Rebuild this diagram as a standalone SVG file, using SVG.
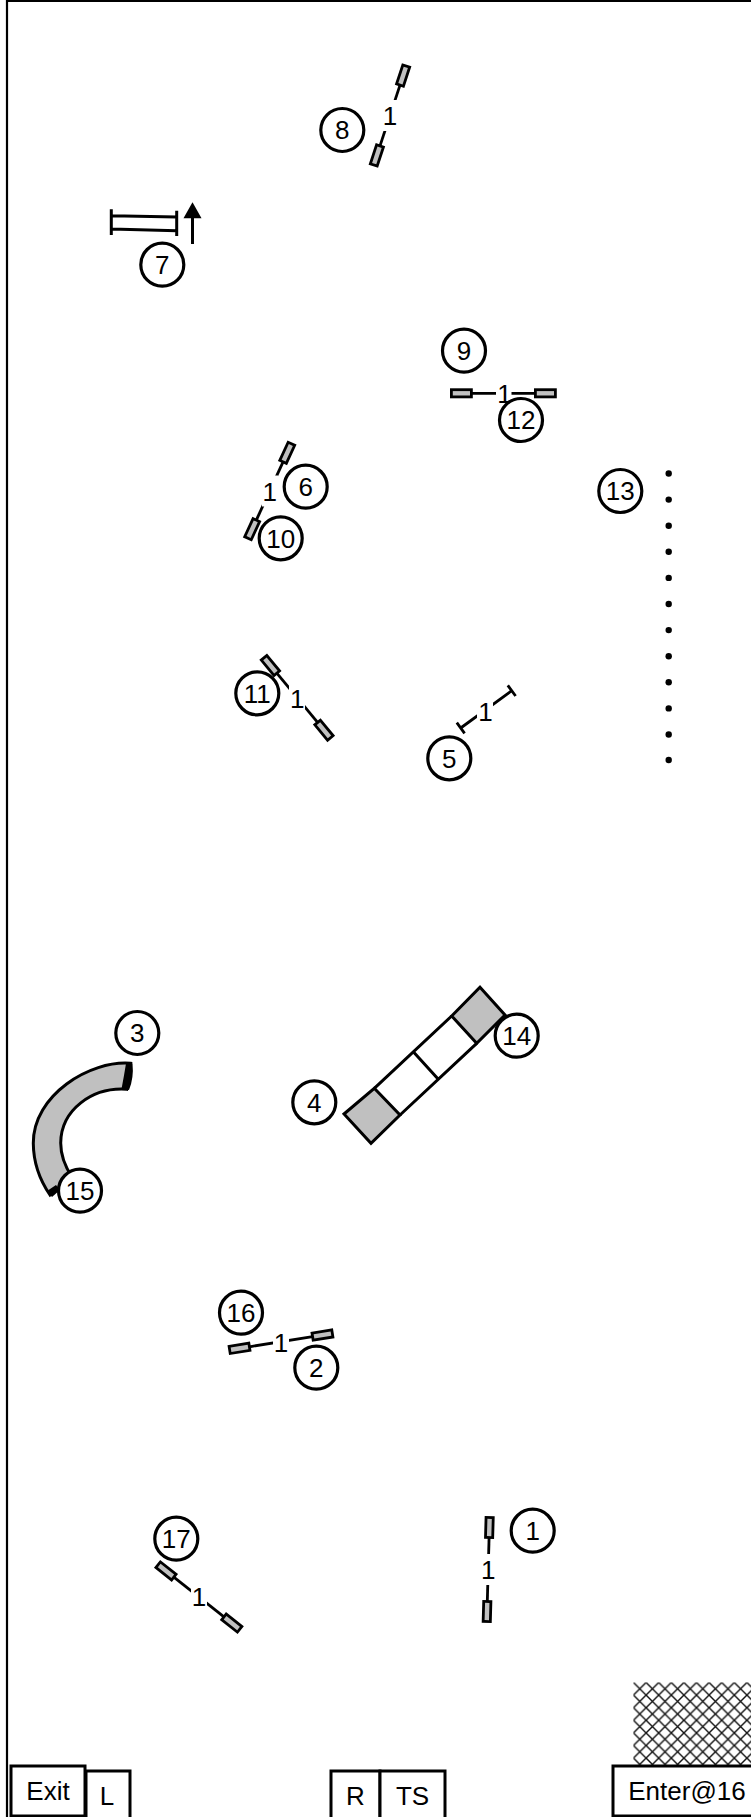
<svg xmlns="http://www.w3.org/2000/svg" width="751" height="1817" viewBox="0 0 751 1817">
<style>
text{font-family:"Liberation Sans",Arial,sans-serif;font-size:26px;fill:#000;text-anchor:middle}
.n circle{fill:#fff;stroke:#000;stroke-width:3.2}
.k{fill:none;stroke:#000;stroke-width:3}
.w{fill:#c0c0c0;stroke:#000;stroke-width:2.8}
.g{fill:#c0c0c0;stroke:#000;stroke-width:3}
.b{fill:#fff;stroke:#000;stroke-width:3}
.d{fill:#000}
</style>
<defs>
<g id="wings">
<line x1="-32" y1="0" x2="32" y2="0" class="k" style="stroke-width:2.8"/>
<rect x="-52" y="-3.6" width="20" height="7.2" class="w"/>
<rect x="32" y="-3.6" width="20" height="7.2" class="w"/>
</g>
<pattern id="hatch" patternUnits="userSpaceOnUse" width="12.6" height="12.6" x="633.5" y="1682.5">
<path d="M0 0L12.6 12.6M12.6 0L0 12.6" stroke="#111" stroke-width="1.4" fill="none"/>
</pattern>
</defs>
<rect width="751" height="1817" fill="#fff"/>
<path id="frame" d="M7 1817V1H751" class="k" style="stroke-width:2.2"/>
<g id="connectors">
<g id="jump-8"><use href="#wings" transform="translate(390 115.5) rotate(-71.8)"/><rect x="382" y="100" width="16" height="31" fill="#fff"/><text x="390" y="125">1</text></g>
<g id="jump-9-12"><use href="#wings" transform="translate(503.4 393.3)"/><rect x="496" y="378" width="15.5" height="31" fill="#fff"/><text x="504.4" y="402.7">1</text></g>
<g id="jump-6-10"><use href="#wings" transform="translate(269.7 491) rotate(-65.3)"/><rect x="262" y="475.5" width="16" height="31" fill="#fff"/><text x="269.7" y="500.5">1</text></g>
<g id="jump-11"><use href="#wings" transform="translate(297.2 697.8) rotate(50.4)"/><rect x="289" y="682" width="16" height="31" fill="#fff"/><text x="297.2" y="708">1</text></g>
<g id="jump-5"><path d="M460.7 728L511.7 690.7M456.8 722.7L464.6 733.3M507.8 685.4L515.6 696" class="k" style="stroke-width:2.8"/><rect x="477" y="696" width="16" height="31" fill="#fff"/><text x="485.5" y="721">1</text></g>
<g id="jump-16-2"><use href="#wings" transform="translate(281 1341.7) rotate(-9.1)"/><rect x="273" y="1326" width="16" height="31" fill="#fff"/><text x="281" y="1351.5">1</text></g>
<g id="jump-17"><use href="#wings" transform="translate(198.9 1597) rotate(38.4)"/><rect x="191" y="1581.5" width="16" height="31" fill="#fff"/><text x="198.9" y="1606">1</text></g>
<g id="jump-1"><use href="#wings" transform="translate(488.2 1569.5) rotate(-88.4)"/><rect x="480" y="1554" width="16" height="31" fill="#fff"/><text x="488.2" y="1579">1</text></g>
</g>
<g id="double-bar-7">
<path d="M111.3 209.3V235M176.7 210.7V236M111.3 215.7L176.7 217M111.3 229L176.7 230.7" class="k"/>
<path d="M192.5 244V216" class="k"/>
<path d="M192.5 202.3L201.5 218.3H183.5Z" fill="#000"/>
</g>
<g id="weave-13">
<circle class="d" cx="668.7" cy="473.5" r="3.2"/><circle class="d" cx="668.7" cy="499.6" r="3.2"/><circle class="d" cx="668.7" cy="525.7" r="3.2"/><circle class="d" cx="668.7" cy="551.8" r="3.2"/><circle class="d" cx="668.7" cy="577.9" r="3.2"/><circle class="d" cx="668.7" cy="604" r="3.2"/><circle class="d" cx="668.7" cy="630.1" r="3.2"/><circle class="d" cx="668.7" cy="656.2" r="3.2"/><circle class="d" cx="668.7" cy="682.3" r="3.2"/><circle class="d" cx="668.7" cy="708.4" r="3.2"/><circle class="d" cx="668.7" cy="734.5" r="3.2"/><circle class="d" cx="668.7" cy="760" r="3.2"/>
</g>
<g id="tunnel-3-15">
<path d="M130.7 1063.3C90 1060 33 1095 33.3 1143.3Q33.5 1171 50 1195L72 1177Q60.7 1160 60.7 1143C61 1110 92 1087 126.7 1089.3Z" class="g"/>
<path d="M126 1063.5Q124 1076 121.5 1089L129 1090Q134 1078 132.5 1063.5Z" fill="#000"/>
<path d="M47 1191L52 1197L60 1190L56 1185Z" fill="#000"/>
</g>
<g id="aframe-4-14">
<path d="M480 987.3L505 1015L476.7 1043.3L451.7 1016Z" class="g"/>
<path d="M374.3 1088.3L400 1115L371 1143.3L344 1114Z" class="g"/>
<path d="M451.7 1016L374.3 1088.3M476.7 1043.3L400 1115M413.3 1051.7L438.3 1079.3" class="k"/>
</g>
<g id="hatch-area"><rect x="633.5" y="1682.5" width="117.5" height="82.5" fill="url(#hatch)"/></g>
<g id="n8" class="n"><circle cx="342.3" cy="130" r="21.5"/><text x="342.3" y="139.2">8</text></g>
<g id="n7" class="n"><circle cx="162.3" cy="264.7" r="21.5"/><text x="162.3" y="273.9">7</text></g>
<g id="n9" class="n"><circle cx="464" cy="350.7" r="21.5"/><text x="464" y="359.9">9</text></g>
<g id="n12" class="n"><circle cx="521" cy="420" r="21.5"/><text x="521" y="429.2">12</text></g>
<g id="n6" class="n"><circle cx="305.7" cy="486.7" r="21.5"/><text x="305.7" y="495.9">6</text></g>
<g id="n10" class="n"><circle cx="280.7" cy="538.3" r="21.5"/><text x="280.7" y="547.5">10</text></g>
<g id="n13" class="n"><circle cx="620.3" cy="491" r="21.5"/><text x="620.3" y="500.2">13</text></g>
<g id="n11" class="n"><circle cx="257.3" cy="693.3" r="21.5"/><text x="257.3" y="702.5">11</text></g>
<g id="n5" class="n"><circle cx="449.3" cy="758.3" r="21.5"/><text x="449.3" y="767.5">5</text></g>
<g id="n3" class="n"><circle cx="137.3" cy="1033" r="21.5"/><text x="137.3" y="1042.2">3</text></g>
<g id="n15" class="n"><circle cx="80" cy="1190.7" r="21.5"/><text x="80" y="1199.9">15</text></g>
<g id="n4" class="n"><circle cx="314.3" cy="1102.3" r="21.5"/><text x="314.3" y="1111.5">4</text></g>
<g id="n14" class="n"><circle cx="516.7" cy="1035.7" r="21.5"/><text x="516.7" y="1044.9">14</text></g>
<g id="n16" class="n"><circle cx="241" cy="1312.7" r="21.5"/><text x="241" y="1321.9">16</text></g>
<g id="n2" class="n"><circle cx="316.3" cy="1367.7" r="21.5"/><text x="316.3" y="1376.9">2</text></g>
<g id="n17" class="n"><circle cx="176.3" cy="1538.7" r="21.5"/><text x="176.3" y="1547.9">17</text></g>
<g id="n1" class="n"><circle cx="532.7" cy="1530.7" r="21.5"/><text x="532.7" y="1539.9">1</text></g>
<g id="box-L"><rect x="86" y="1771" width="44" height="50" class="b"/><text x="107" y="1805">L</text></g>
<g id="box-Exit"><rect x="11" y="1766" width="74" height="50" class="b"/><text x="48" y="1800">Exit</text></g>
<g id="box-R"><rect x="331" y="1771" width="49" height="50" class="b"/><text x="355.5" y="1805">R</text></g>
<g id="box-TS"><rect x="380" y="1771" width="65" height="50" class="b"/><text x="412.5" y="1805">TS</text></g>
<g id="box-Enter"><rect x="613" y="1766" width="142" height="50" class="b"/><text x="687" y="1799.5">Enter@16</text></g>
</svg>
